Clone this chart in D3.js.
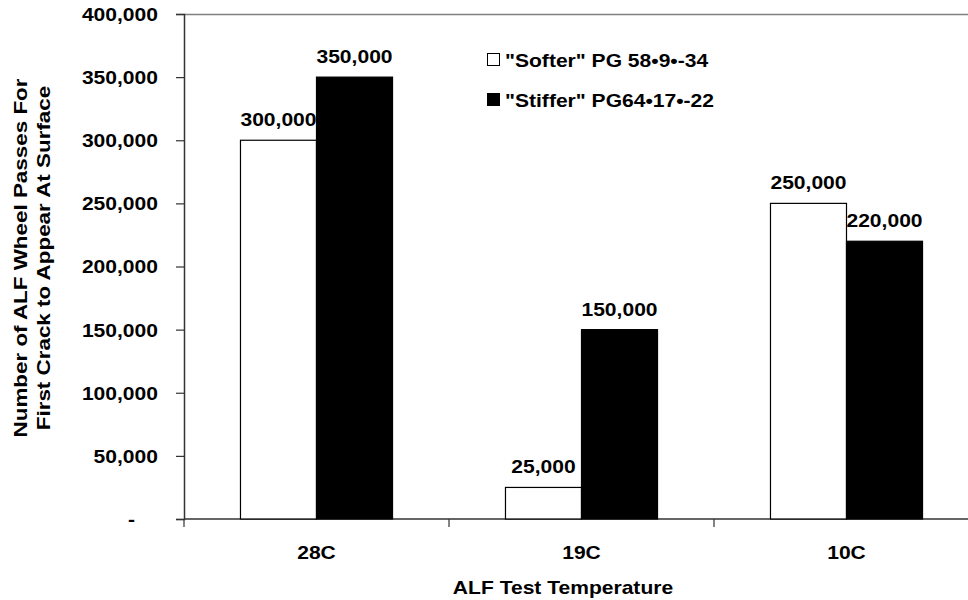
<!DOCTYPE html>
<html>
<head>
<meta charset="utf-8">
<script src="https://cdn.jsdelivr.net/npm/d3@7"></script>
<style>
  html, body { margin: 0; padding: 0; background: #fff; }
  svg { display: block; }
  text { font-family: "Liberation Sans", Arial, sans-serif; font-weight: bold; fill: #000; }
</style>
</head>
<body>
<svg id="chart" width="968" height="600"></svg>
<script>
// Cracking data: wheel passes until first crack, by test temperature
const categories = ["28C", "19C", "10C"];
const seriesNames = ["\"Softer\" PG 58\u20229\u2022-34", "\"Stiffer\" PG64\u202217\u2022-22"];
const softerValues = [300000, 25000, 250000];
const stifferValues = [350000, 150000, 220000];
const yTicks = [0, 50000, 100000, 150000, 200000, 250000, 300000, 350000, 400000];
const yTitleLines = ["Number of ALF Wheel Passes For", "First Crack to Appear At Surface"];
const xTitle = "ALF Test Temperature";

const series = [
  { name: seriesNames[0], values: softerValues, fill: "#ffffff" },
  { name: seriesNames[1], values: stifferValues, fill: "#000000" }
];

const svg = d3.select("#chart");
const m = { left: 184, top: 14, right: 979, bottom: 519 };
const FS = 18;    // font size
const SX = 1.17;  // horizontal stretch of the lettering

const x0 = d3.scaleBand().domain(categories).range([m.left, m.right]).padding(0);
const x1 = d3.scaleBand().domain(d3.range(series.length)).range([0, x0.bandwidth()])
  .paddingInner(0).paddingOuter(0.743);
const y = d3.scaleLinear().domain([0, 400000]).range([m.bottom, m.top]);

// accounting-style number format: zero shows as a dash
const fmt = v => v === 0 ? "-" : d3.format(",")(v);

function stretchedText(g, x, yy, str, anchor, rot, fs, sx) {
  return g.append("text")
    .attr("transform", `translate(${x},${yy})${rot ? ` rotate(${rot})` : ""} scale(${sx || SX},1)`)
    .attr("text-anchor", anchor)
    .style("font-size", (fs || FS) + "px")
    .text(str);
}

// plot area top border
svg.append("line")
  .attr("x1", m.left).attr("x2", m.right)
  .attr("y1", m.top + 0.5).attr("y2", m.top + 0.5)
  .attr("stroke", "#808080").attr("stroke-width", 1.5);

// y axis
const yAxis = svg.append("g")
  .attr("transform", `translate(${m.left},0)`)
  .call(d3.axisLeft(y).tickValues(yTicks).tickFormat(fmt).tickSize(8));
yAxis.select(".domain").attr("stroke", "#333").attr("stroke-width", 1.5);
yAxis.selectAll(".tick line").attr("stroke", "#333").attr("stroke-width", 1.2);
yAxis.selectAll(".tick text")
  .attr("x", null).attr("dy", "0.36em")
  .attr("transform", d => `translate(${d === 0 ? -49 : -26},0) scale(${SX},1)`)
  .style("font-size", FS + "px").style("font-family", null);

// x axis with ticks at the category boundaries
const xAxis = svg.append("g").attr("transform", `translate(0,${m.bottom})`);
xAxis.append("line")
  .attr("x1", m.left).attr("x2", m.right)
  .attr("stroke", "#333").attr("stroke-width", 1.5);
const bounds = categories.map(c => x0(c)).concat([x0(categories[categories.length - 1]) + x0.bandwidth()]);
xAxis.selectAll(".xtick").data(bounds).join("line")
  .attr("x1", d => d).attr("x2", d => d).attr("y1", 0).attr("y2", 8)
  .attr("stroke", "#333").attr("stroke-width", 1.2);
categories.forEach(c => {
  stretchedText(svg, x0(c) + x0.bandwidth() / 2, 559, c, "middle");
});

// bars and their value labels, series by series
series.forEach((s, si) => {
  const g = svg.append("g");
  g.selectAll("rect").data(s.values).join("rect")
    .attr("x", (d, i) => x0(categories[i]) + x1(si))
    .attr("y", d => y(d))
    .attr("width", x1.bandwidth())
    .attr("height", d => m.bottom - y(d))
    .attr("fill", s.fill)
    .attr("stroke", "#000").attr("stroke-width", 1.2);
  s.values.forEach((v, i) => {
    stretchedText(g, x0(categories[i]) + x1(si) + x1.bandwidth() / 2, y(v) - 14, fmt(v), "middle");
  });
});

// axis titles
stretchedText(svg, 563, 594, xTitle, "middle");
stretchedText(svg, 27, 258, yTitleLines[0], "middle", -90, 19, 1.18);
stretchedText(svg, 50, 258, yTitleLines[1], "middle", -90, 19, 1.18);

// legend
const legend = svg.append("g");
series.forEach((s, i) => {
  const ly = 60 + i * 40;
  legend.append("rect")
    .attr("x", 487.5).attr("y", ly - 6.5).attr("width", 12).attr("height", 12)
    .attr("fill", s.fill).attr("stroke", "#000").attr("stroke-width", 1);
  stretchedText(legend, 505, ly + 6.5, s.name, "start");
});
</script>
</body>
</html>
